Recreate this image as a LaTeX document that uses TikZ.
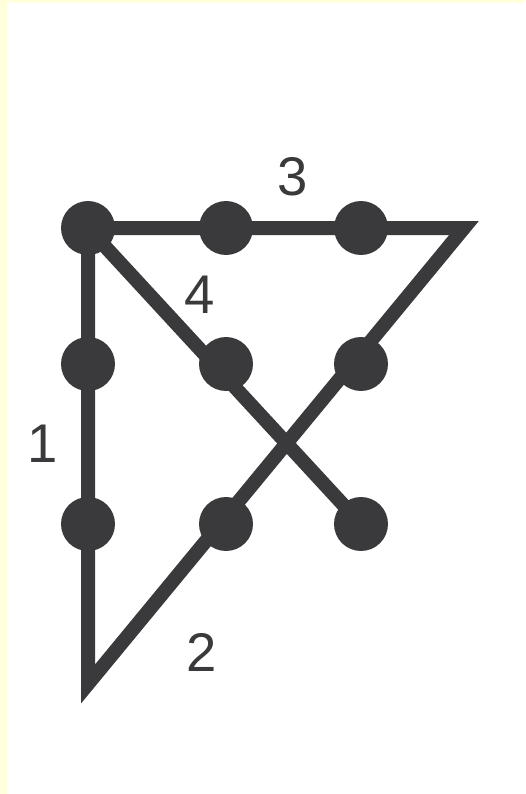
\documentclass[tikz,border=0pt]{standalone}
\usepackage{fontspec}
\setmainfont{Liberation Sans}
\usepackage{tikz}
\usetikzlibrary{positioning}

\definecolor{ink}{HTML}{3A3A3C}
\definecolor{paper}{HTML}{FFFFDC}

\begin{document}
\begin{tikzpicture}[
  x=0.02cm, y=-0.02cm,
  dot/.style={circle, fill=ink, inner sep=0pt, minimum size=1.08cm},
  stroke/.style={draw=ink, line width=0.28cm, line join=miter},
  num/.style={font=\fontsize{31}{36}\selectfont, text=ink, inner sep=0pt},
]

% page with its pale edge
\useasboundingbox (0,0) rectangle (525,794);
\fill[white] (0,0) rectangle (525,794);
\fill[paper] (0,0) rectangle (7,794);
\fill[paper] (0,0) rectangle (525,3);

% the nine dots
\node[dot] (d11) at (88,228) {};
\node[dot] (d12) at (226,228) {};
\node[dot] (d13) at (361,228) {};
\node[dot] (d21) at (88,364) {};
\node[dot] (d22) at (226,364) {};
\node[dot] (d23) at (361,364) {};
\node[dot] (d31) at (88,524) {};
\node[dot] (d32) at (226,524) {};
\node[dot] (d33) at (361,524) {};

% corners outside the square
\coordinate (bl) at (88,684);
\coordinate (tr) at (464,228);

% the four strokes
\draw[stroke] (d11.center) -- (bl) -- (tr) -- (d11.center) -- (d33.center);

% stroke numbers
\node[num] (lab1) at (43,444) {1};
\node[num] (lab2) at (202,652) {2};
\node[num] (lab3) at (293,177) {3};
\node[num] (lab4) at (200,295) {4};

\end{tikzpicture}
\end{document}
